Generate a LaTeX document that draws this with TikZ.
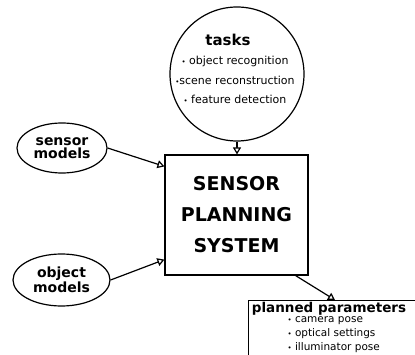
\documentclass[tikz,border=0pt]{standalone}
\usepackage{fontspec}
\setmainfont{DejaVu Sans}
\usetikzlibrary{shapes.geometric,arrows.meta}

\tikzset{
  feed/.style={draw, ellipse, line width=1.2pt, inner sep=0pt, align=center,
    font=\fontsize{14}{13.5}\selectfont\bfseries},
  flow/.style={line width=1.2pt, -{Triangle[open, length=7pt, width=8pt, fill=white]}},
}

\begin{document}
\begin{tikzpicture}[x=1pt, y=-1pt]
        \useasboundingbox (0,0) rectangle (415,355);

        %Tasks
        \node [draw, circle, line width=1.2pt, minimum size=134pt] (tasks) at (237,74) {};
        \node [font=\fontsize{15}{15}\selectfont\bfseries] (taskhead) at (228,40) {tasks};
        \node [align=center, font=\fontsize{11}{19.5}\selectfont] (tasklist) at (235,80) {
          {\scriptsize\textbullet} object recognition\\
          {\scriptsize\textbullet}scene reconstruction\\
          {\scriptsize\textbullet} feature detection
        };
        %Models
        \node [feed, minimum width=90pt, minimum height=50pt] (sensor) at (62,148) {sensor\\models};
        \node [feed, minimum width=97pt, minimum height=52pt] (object) at (61.5,280) {object\\models};
        %Planning system
        \node [draw, line width=1.2pt, minimum width=143pt, minimum height=120pt, align=center,
          font=\fontsize{19}{31}\selectfont\bfseries] (spbox) at (236.5,215) {SENSOR\\PLANNING\\SYSTEM};
        %Planned parameters
        \node [draw, line width=1.2pt, anchor=north west, minimum width=200pt, minimum height=90pt]
          (plan) at (248,300) {};
        \node [font=\fontsize{13.5}{13.5}\selectfont\bfseries] (planhead) at (329,309) {planned parameters};
        \node [anchor=north west, align=left, font=\fontsize{10.5}{14}\selectfont] (planlist) at (284,313) {
          {\scriptsize\textbullet} camera pose\\
          {\scriptsize\textbullet} optical settings\\
          {\scriptsize\textbullet} illuminator pose
        };

        %Arrows
        \draw [flow] (tasks.south) -- (tasks.south |- spbox.north);
        \draw [flow] (sensor.east) -- ([yshift=-12pt]spbox.north west);
        \draw [flow] (object.east) -- ([yshift=16pt]spbox.south west);
        \draw [flow] ([xshift=-13pt]spbox.south east) -- ([xshift=87pt]plan.north west);
      \end{tikzpicture}
\end{document}
